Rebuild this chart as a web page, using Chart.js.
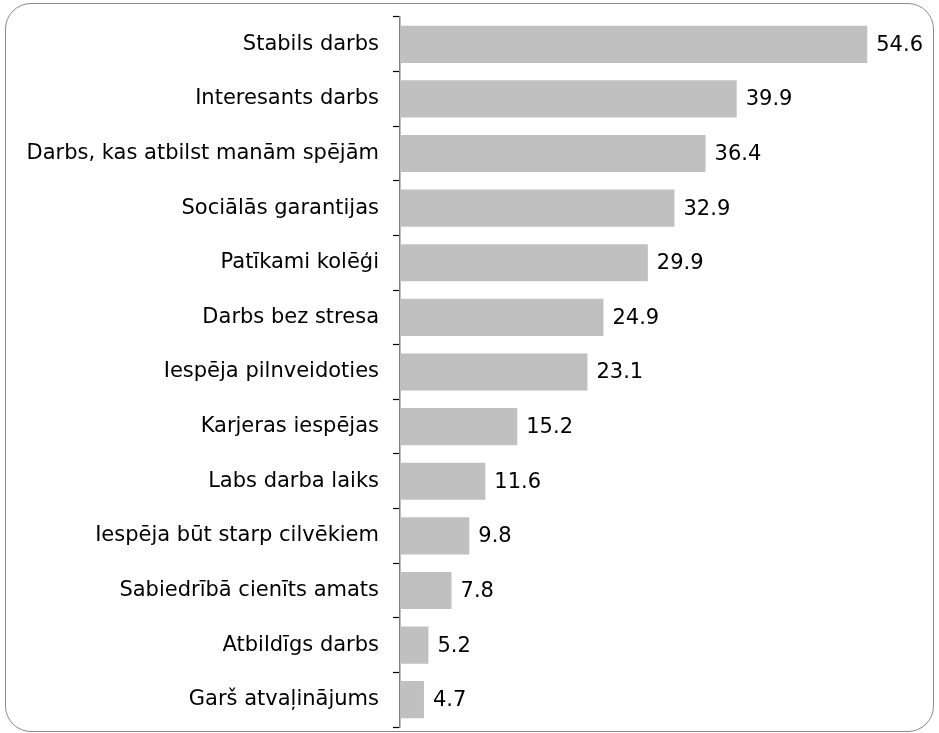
<!DOCTYPE html>
<html lang="lv">
<head>
<meta charset="UTF-8">
<title>Darba vērtības</title>
<script src="https://cdn.jsdelivr.net/npm/chart.js@4.4.1/dist/chart.umd.min.js"></script>
<style>
  html, body { margin: 0; padding: 0; background: #fff; }
  .wrap { position: relative; width: 939px; height: 733px; overflow: hidden; }
  .frame {
    position: absolute; left: 5px; top: 3px; width: 927px; height: 727px;
    border: 1px solid #8a8a8a; border-radius: 26px;
  }
  canvas { position: absolute; left: 0; top: 0; }
</style>
</head>
<body>
<div class="wrap">
  <div class="frame"></div>
  <canvas id="chart" width="939" height="733"></canvas>
</div>
<script>
// kategorijas un vērtības (%)
const categories = [
  'Stabils darbs',
  'Interesants darbs',
  'Darbs, kas atbilst manām spējām',
  'Sociālās garantijas',
  'Patīkami kolēģi',
  'Darbs bez stresa',
  'Iespēja pilnveidoties',
  'Karjeras iespējas',
  'Labs darba laiks',
  'Iespēja būt starp cilvēkiem',
  'Sabiedrībā cienīts amats',
  'Atbildīgs darbs',
  'Garš atvaļinājums'
];
const values = [54.6, 39.9, 36.4, 32.9, 29.9, 24.9, 23.1, 15.2, 11.6, 9.8, 7.8, 5.2, 4.7];

const fontFamily = 'Verdana, "DejaVu Sans", sans-serif';
const fontSize = 21;

// vērtību uzraksti pie stabiņiem
const valueLabels = {
  id: 'valueLabels',
  afterDatasetsDraw(chart) {
    const ctx = chart.ctx;
    const meta = chart.getDatasetMeta(0);
    ctx.save();
    ctx.font = fontSize + 'px ' + fontFamily;
    ctx.fillStyle = '#000';
    ctx.textAlign = 'left';
    ctx.textBaseline = 'middle';
    meta.data.forEach((bar, i) => {
      ctx.fillText(values[i].toFixed(1), bar.x + 9, bar.y + 1);
    });
    ctx.restore();
  }
};

new Chart(document.getElementById('chart').getContext('2d'), {
  type: 'bar',
  data: {
    labels: categories,
    datasets: [{
      data: values,
      backgroundColor: '#c0c0c0',
      borderWidth: 0,
      barPercentage: 0.68,
      categoryPercentage: 1
    }]
  },
  options: {
    indexAxis: 'y',
    responsive: false,
    animation: false,
    layout: { padding: { top: 17, bottom: 6, right: 6, left: 0 } },
    plugins: {
      legend: { display: false },
      tooltip: { enabled: false }
    },
    scales: {
      x: {
        display: false,
        min: 2,
        max: 62
      },
      y: {
        afterFit(scale) {
          scale.width = 400;
          scale.paddingTop = 0;
          scale.paddingBottom = 0;
        },
        border: { display: true, color: '#808080', width: 1.5 },
        grid: {
          drawOnChartArea: false,
          drawTicks: true,
          tickLength: 7,
          tickColor: '#000',
          tickWidth: 1.2,
          offset: true
        },
        ticks: {
          color: '#000',
          padding: 14,
          autoSkip: false,
          font: { family: fontFamily, size: fontSize }
        }
      }
    }
  },
  plugins: [valueLabels]
});
</script>
</body>
</html>
